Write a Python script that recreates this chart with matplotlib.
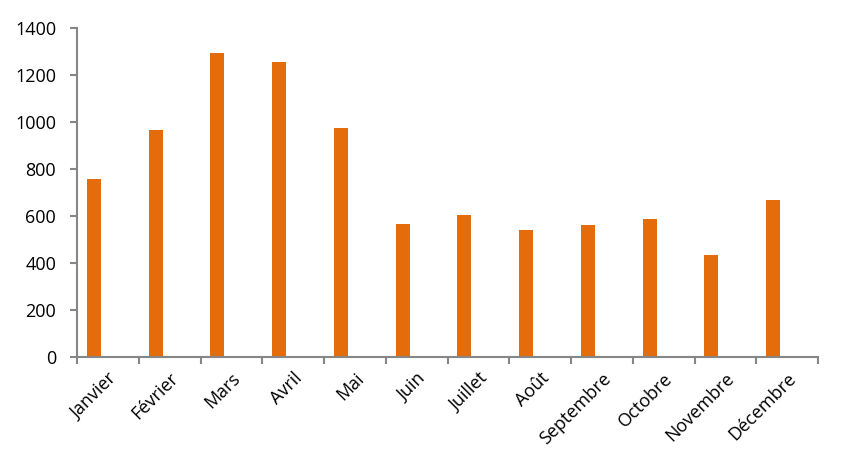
import matplotlib.pyplot as plt
import numpy as np

months = ["Janvier", "Février", "Mars", "Avril", "Mai", "Juin",
          "Juillet", "Août", "Septembre", "Octobre", "Novembre", "Décembre"]
values = [758, 966, 1295, 1256, 975, 566, 604, 540, 562, 587, 434, 668]
yticks = [0, 200, 400, 600, 800, 1000, 1200, 1400]

plt.rcParams['font.family'] = ['Open Sans', 'DejaVu Sans']

fig = plt.figure(figsize=(8.47, 4.69), dpi=100)
ax = fig.add_axes([0.0909, 0.2388, 0.875, 0.7015])

x = np.arange(len(months))
# bar sits in the first of three slots of each category (Excel clustered look)
bar_w = 0.227
ax.bar(x - bar_w, values, width=bar_w, color="#E46C0A", zorder=2)

ax.set_xlim(-0.5, len(months) - 0.5)
ax.set_ylim(0, 1400)
ax.set_yticks(yticks)
ax.set_yticklabels([str(v) for v in yticks], fontsize=13)

# ticks sit between categories, labels at the centres
ax.set_xticks(np.arange(-0.5, len(months), 1.0))
ax.set_xticklabels([])
ax.set_xticks(x, minor=True)
ax.set_xticklabels(months, minor=True, rotation=45, ha="right",
                   rotation_mode="anchor", fontsize=13)
ax.tick_params(axis="x", which="minor", length=0, pad=9)
ax.tick_params(axis="x", which="major", length=5, width=1.5, color="#868686")
ax.tick_params(axis="y", length=5, width=1.5, color="#868686", pad=10)

for side in ["top", "right"]:
    ax.spines[side].set_visible(False)
for side in ["left", "bottom"]:
    ax.spines[side].set_color("#868686")
    ax.spines[side].set_linewidth(1.5)

fig.savefig("out.png", dpi=100)
